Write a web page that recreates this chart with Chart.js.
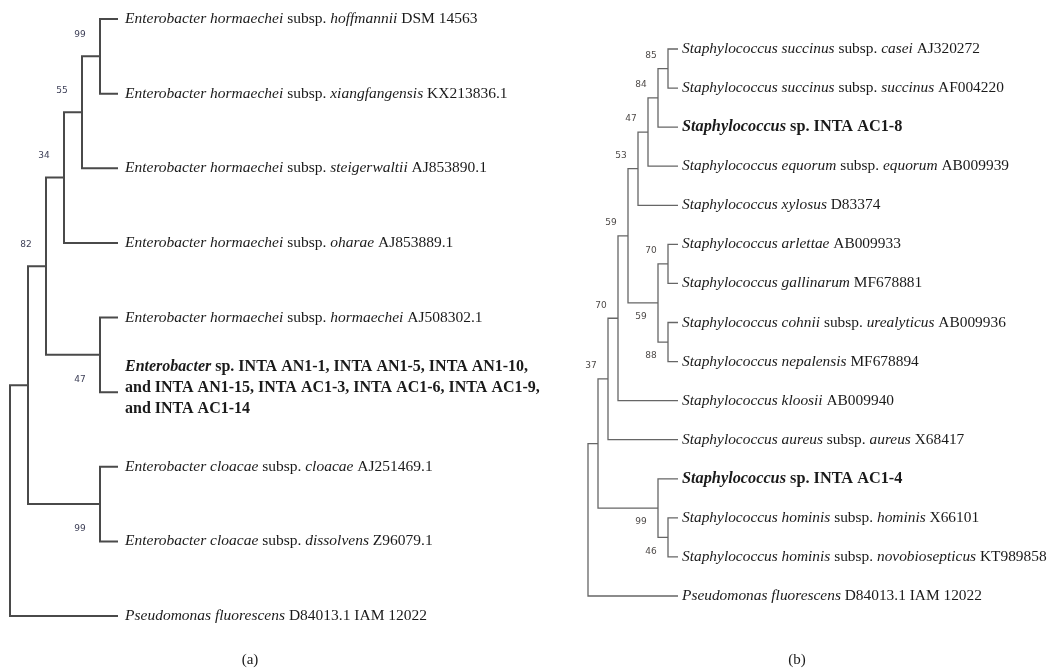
<!DOCTYPE html>
<html><head><meta charset="utf-8">
<script src="https://cdn.jsdelivr.net/npm/chart.js@4"></script>
<style>
html,body{margin:0;padding:0;background:#fff;width:1051px;height:668px;overflow:hidden}
.w{position:absolute;top:0;height:668px}
#wa{left:0;width:560px}
#wb{left:560px;width:491px}
</style></head><body>
<div class="w" id="wa"><canvas id="ca" width="560" height="668"></canvas></div>
<div class="w" id="wb"><canvas id="cb" width="491" height="668"></canvas></div>
<script>
// ---------- Panel (a): Enterobacter ----------
const leavesA = [
  "*Enterobacter hormaechei* subsp. *hoffmannii* DSM 14563",
  "*Enterobacter hormaechei* subsp. *xiangfangensis* KX213836.1",
  "*Enterobacter hormaechei* subsp. *steigerwaltii* AJ853890.1",
  "*Enterobacter hormaechei* subsp. *oharae* AJ853889.1",
  "*Enterobacter hormaechei* subsp. *hormaechei* AJ508302.1",
  "*Enterobacter* sp. INTA AN1-1, INTA AN1-5, INTA AN1-10,\nand INTA AN1-15, INTA AC1-3, INTA AC1-6, INTA AC1-9,\nand INTA AC1-14",
  "*Enterobacter cloacae* subsp. *cloacae* AJ251469.1",
  "*Enterobacter cloacae* subsp. *dissolvens* Z96079.1",
  "*Pseudomonas fluorescens* D84013.1 IAM 12022"
];
const boldLeavesA = [5];
// internal nodes (L# = leaf index, N# = node index); last one is the root
const nodesA = [["L0","L1"],["N0","L2"],["N1","L3"],["L4","L5"],["N2","N3"],["L6","L7"],["N4","N5"],["N6","L8"]];
const bootstrapA = [99, 55, 34, 47, 82, 99, null, null];
const bootSideA  = ["up","up","up","down","up","down",null,null];

// ---------- Panel (b): Staphylococcus ----------
const leavesB = [
  "*Staphylococcus succinus* subsp. *casei* AJ320272",
  "*Staphylococcus succinus* subsp. *succinus* AF004220",
  "*Staphylococcus* sp. INTA AC1-8",
  "*Staphylococcus equorum* subsp. *equorum* AB009939",
  "*Staphylococcus xylosus* D83374",
  "*Staphylococcus arlettae* AB009933",
  "*Staphylococcus gallinarum* MF678881",
  "*Staphylococcus cohnii* subsp. *urealyticus* AB009936",
  "*Staphylococcus nepalensis* MF678894",
  "*Staphylococcus kloosii* AB009940",
  "*Staphylococcus aureus* subsp. *aureus* X68417",
  "*Staphylococcus* sp. INTA AC1-4",
  "*Staphylococcus hominis* subsp. *hominis* X66101",
  "*Staphylococcus hominis* subsp. *novobiosepticus* KT989858",
  "*Pseudomonas fluorescens* D84013.1 IAM 12022"
];
const boldLeavesB = [2, 11];
const nodesB = [["L0","L1"],["N0","L2"],["N1","L3"],["N2","L4"],["L5","L6"],["L7","L8"],["N4","N5"],["N3","N6"],
                ["N7","L9"],["N8","L10"],["L12","L13"],["L11","N10"],["N9","N11"],["N12","L14"]];
const bootstrapB = [85, 84, 47, 53, 70, 88, 59, 59, 70, 37, 46, 99, null, null];
const bootSideB  = ["up","up","up","up","up","down","down","up","up","up","down","down",null,null];

const captionA = "(a)", captionB = "(b)";

// ---------- tree layout (cladogram: leaves aligned, node depth from subtree height) ----------
function layout(leaves, nodes) {
  const n = nodes.length;
  const info = {};
  function get(id) {
    if (info[id]) return info[id];
    let r;
    if (id[0] === "L") { const i = +id.slice(1); r = {h: 0, y: i}; }
    else {
      const ch = nodes[+id.slice(1)].map(get);
      r = {h: Math.max(...ch.map(c => c.h)) + 1, y: (ch[0].y + ch[ch.length-1].y) / 2};
    }
    info[id] = r; return r;
  }
  const root = get("N" + (n - 1));
  const maxLvl = root.h;
  Object.values(info).forEach(o => o.x = maxLvl - o.h);
  return {info, maxLvl};
}

// one continuous bracket path per internal node: first child -> node bar -> last child
function buildDatasets(nodes, lay, color, width) {
  return nodes.map((ch, k) => {
    const p = lay.info["N" + k];
    const a = lay.info[ch[0]], b = lay.info[ch[ch.length - 1]];
    return {data: [{x: a.x, y: a.y}, {x: p.x, y: a.y}, {x: p.x, y: b.y}, {x: b.x, y: b.y}],
      borderColor: color, borderWidth: width, pointRadius: 0, tension: 0, fill: false,
      clip: false, borderCapStyle: 'butt', borderJoinStyle: 'miter'};
  });
}

function drawRich(ctx, text, x, y, size, bold, family) {
  let italic = false, cx = x;
  text.split("*").forEach((seg, i) => {
    if (i > 0) italic = !italic;
    if (!seg) return;
    ctx.font = (italic ? "italic " : "") + (bold ? "bold " : "") + size + "px " + family;
    ctx.fillText(seg, cx, y);
    cx += ctx.measureText(seg).width;
  });
}

function makeTree(canvasId, leaves, boldLeaves, nodes, boot, side, st) {
  const lay = layout(leaves, nodes);
  const labelPlugin = {
    id: 'treeLabels',
    afterDatasetsDraw(chart) {
      const ctx = chart.ctx, xs = chart.scales.x, ys = chart.scales.y;
      ctx.save();
      ctx.fillStyle = '#1a1a1a';
      ctx.textBaseline = 'middle';
      ctx.textAlign = 'left';
      const tx = xs.getPixelForValue(lay.maxLvl) + st.textGap;
      leaves.forEach((t, i) => {
        const lines = t.split("\n");
        const isBold = boldLeaves.includes(i);
        const cy = ys.getPixelForValue(i) + (lines.length > 1 ? st.multiShift : 0);
        lines.forEach((ln, j) => {
          const ly = cy + (j - (lines.length - 1) / 2) * st.lineH;
          drawRich(ctx, ln, tx, ly, isBold ? st.boldSize : st.fontSize, isBold, st.family);
        });
      });
      // bootstrap values
      ctx.font = st.bootSize + "px 'DejaVu Sans'";
      ctx.fillStyle = st.bootColor;
      ctx.textAlign = 'center';
      boot.forEach((v, k) => {
        if (v == null) return;
        const p = lay.info["N" + k];
        const px = xs.getPixelForValue(p.x) - st.bootDx;
        const py = ys.getPixelForValue(p.y) + (side[k] === "up" ? -st.bootUp : st.bootDown);
        ctx.fillText(String(v), px, py);
      });
      // caption
      ctx.font = "15px 'Liberation Serif'";
      ctx.fillStyle = '#1a1a1a';
      ctx.fillText(st.caption, st.capX, st.capY);
      ctx.restore();
    }
  };
  return new Chart(document.getElementById(canvasId), {
    type: 'line',
    data: {datasets: buildDatasets(nodes, lay, st.lineColor, st.lineWidth)},
    options: {
      responsive: false, animation: false, devicePixelRatio: 1,
      layout: {padding: st.pad},
      plugins: {legend: {display: false}, tooltip: {enabled: false}},
      events: [],
      scales: {
        x: {type: 'linear', display: false, min: 0, max: lay.maxLvl},
        y: {type: 'linear', display: false, min: 0, max: leaves.length - 1, reverse: true}
      }
    },
    plugins: [labelPlugin]
  });
}

makeTree('ca', leavesA, boldLeavesA, nodesA, bootstrapA, bootSideA, {
  pad: {left: 10, right: 442, top: 19, bottom: 52},
  lineColor: '#4a4a4a', lineWidth: 2, fontSize: 15.5, boldSize: 16, family: "'Liberation Serif'",
  textGap: 7, lineH: 21, multiShift: -4,
  bootSize: 9, bootColor: '#3e4058', bootDx: 20, bootUp: 22, bootDown: 25,
  caption: captionA, capX: 250, capY: 660
});
makeTree('cb', leavesB, boldLeavesB, nodesB, bootstrapB, bootSideB, {
  pad: {left: 28, right: 373, top: 49, bottom: 72},
  lineColor: '#666666', lineWidth: 1.3, fontSize: 15.4, boldSize: 16.3, family: "'Liberation Serif'",
  textGap: 4, lineH: 20, multiShift: 0,
  bootSize: 9, bootColor: '#4e4a48', bootDx: 17, bootUp: 13, bootDown: 14,
  caption: captionB, capX: 237, capY: 660
});
</script>
</body></html>
